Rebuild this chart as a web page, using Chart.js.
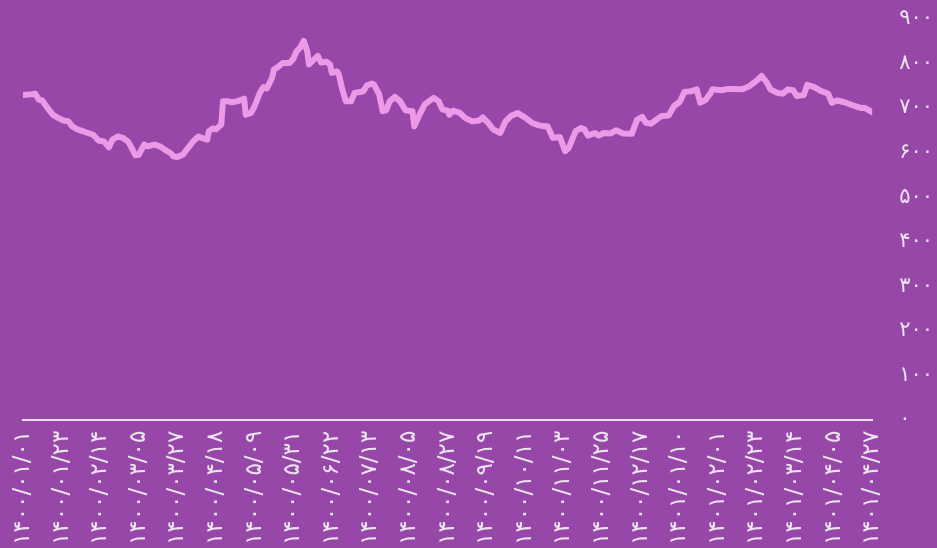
<!DOCTYPE html>
<html>
<head>
<meta charset="utf-8">
<script src="https://cdn.jsdelivr.net/npm/chart.js@4.4.1/dist/chart.umd.min.js"></script>
<style>
  html, body { margin: 0; padding: 0; overflow: hidden; background: #9747a8; }
  #wrap { position: relative; width: 937px; height: 548px; }
</style>
</head>
<body>
<div id="wrap"><canvas id="priceChart"></canvas></div>
<script>
// tick labels (Persian dates, every 22 days)
const xTickLabels = ['۱۴۰۰/۰۱/۰۱', '۱۴۰۰/۰۱/۲۳', '۱۴۰۰/۰۲/۱۴', '۱۴۰۰/۰۳/۰۵', '۱۴۰۰/۰۳/۲۷', '۱۴۰۰/۰۴/۱۸',
    '۱۴۰۰/۰۵/۰۹', '۱۴۰۰/۰۵/۳۱', '۱۴۰۰/۰۶/۲۲', '۱۴۰۰/۰۷/۱۳', '۱۴۰۰/۰۸/۰۵', '۱۴۰۰/۰۸/۲۷',
    '۱۴۰۰/۰۹/۱۹', '۱۴۰۰/۱۰/۱۱', '۱۴۰۰/۱۱/۰۳', '۱۴۰۰/۱۱/۲۵', '۱۴۰۰/۱۲/۱۷', '۱۴۰۱/۰۱/۱۰',
    '۱۴۰۱/۰۲/۰۱', '۱۴۰۱/۰۲/۲۳', '۱۴۰۱/۰۳/۱۴', '۱۴۰۱/۰۴/۰۵', '۱۴۰۱/۰۴/۲۷'];
const yTickLabels = ['۰', '۱۰۰', '۲۰۰', '۳۰۰', '۴۰۰', '۵۰۰', '۶۰۰', '۷۰۰', '۸۰۰', '۹۰۰'];

// day number since 1400/01/01 and the value read on that day
const dayIndex = [0, 5, 7, 9, 11, 14, 17, 20, 23, 26, 28, 31, 34, 37, 40, 43, 46, 47, 49, 51, 54, 57, 60, 62, 64, 66,
    69, 71, 75, 78, 81, 84, 86, 88, 91, 94, 97, 100, 101, 105, 106, 108, 110, 113, 114, 117, 119, 122, 126, 127, 130,
    132, 135, 137, 139, 142, 143, 145, 148, 152, 154, 156, 158, 160, 162, 163, 165, 168, 170, 173, 175, 176, 179, 180,
    182, 184, 187, 189, 192, 194, 196, 199, 200, 203, 205, 207, 209, 212, 215, 218, 222, 223, 226, 229, 234, 237, 239,
    242, 243, 245, 249, 252, 256, 260, 262, 265, 268, 272, 275, 278, 282, 286, 290, 294, 297, 299, 302, 306, 309, 311,
    315, 318, 320, 322, 326, 328, 331, 335, 338, 342, 347, 350, 353, 355, 358, 361, 364, 368, 371, 374, 375, 377, 381,
    384, 386, 389, 392, 393, 398, 402, 410, 414, 418, 421, 424, 426, 430, 433, 436, 439, 441, 445, 447, 451, 455, 459,
    461, 464, 469, 473, 478, 480, 484];
const dayValue = [729, 731, 732, 719, 717, 700, 685, 678, 672, 670, 659, 652, 648, 644, 640, 627, 625, 621, 612, 629,
    636, 633, 624, 610, 594, 595, 618, 614, 618, 614, 606, 599, 591, 590, 595, 610, 625, 636, 634, 629, 648, 654, 652,
    663, 715, 715, 713, 715, 721, 685, 689, 704, 734, 747, 744, 768, 787, 791, 801, 801, 810, 828, 836, 851, 828, 798,
    806, 817, 802, 804, 798, 779, 782, 776, 742, 715, 715, 734, 736, 738, 751, 755, 753, 731, 693, 695, 715, 725, 715,
    695, 693, 659, 685, 708, 723, 715, 697, 694, 685, 694, 689, 678, 670, 672, 679, 667, 652, 644, 670, 682, 689, 679,
    667, 661, 659, 659, 633, 635, 603, 610, 648, 655, 652, 638, 644, 638, 644, 643, 650, 643, 642, 674, 680, 667, 665,
    674, 682, 683, 704, 713, 719, 736, 738, 742, 712, 718, 734, 742, 740, 743, 742, 749, 761, 772, 757, 742, 734, 732,
    742, 740, 727, 729, 752, 747, 738, 732, 712, 717, 712, 706, 700, 700, 691];

const points = dayIndex.map((d, i) => ({x: d, y: dayValue[i]}));

Chart.defaults.font.family = "'DejaVu Sans', sans-serif";
Chart.defaults.font.size = 21;
Chart.defaults.color = '#ebe3ee';

new Chart(document.getElementById('priceChart'), {
    type: 'line',
    data: {
        datasets: [{
            data: points,
            borderColor: '#ec9ae8',
            borderWidth: 6,
            pointRadius: 0,
            tension: 0,
            borderJoinStyle: 'round',
            borderCapStyle: 'round'
        }]
    },
    options: {
        responsive: true,
        maintainAspectRatio: false,
        animation: false,
        layout: { padding: { left: 23, top: 19, right: -15, bottom: 0 } },
        plugins: { legend: { display: false }, tooltip: { enabled: false } },
        scales: {
            x: {
                type: 'linear',
                min: 0,
                max: 484,
                grid: { display: false },
                border: { display: true, color: '#e6e0e8', width: 2 },
                afterFit: (scale) => { scale.paddingLeft = 0; scale.paddingRight = 0; },
                ticks: {
                    font: { size: 23 },
                    stepSize: 22,
                    autoSkip: false,
                    minRotation: 90,
                    maxRotation: 90,
                    callback: (v) => xTickLabels[Math.round(v / 22)]
                }
            },
            y: {
                position: 'right',
                min: 0,
                max: 900,
                grid: { display: false },
                border: { display: false },
                afterFit: (scale) => { scale.paddingTop = 0; scale.paddingBottom = 0; },
                ticks: {
                    stepSize: 100,
                    padding: 19,
                    callback: (v, i) => yTickLabels[i]
                }
            }
        }
    }
});
</script>
</body>
</html>
